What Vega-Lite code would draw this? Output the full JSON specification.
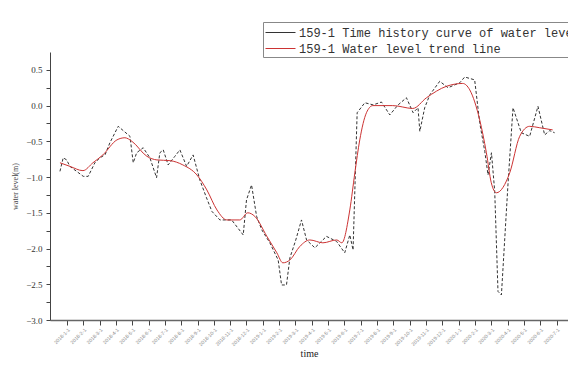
{
  "$schema": "https://vega.github.io/schema/vega-lite/v6.json",
  "width": 518,
  "height": 268,
  "autosize": "none",
  "padding": {"left": 50, "top": 52, "right": 0, "bottom": 45},
  "background": "white",
  "config": {
    "view": {"stroke": null},
    "font": "Liberation Serif"
  },
  "datasets": {
    "hist": [
      {"t": -0.43, "v": -0.92}, {"t": -0.23, "v": -0.73}, {"t": -0.02, "v": -0.76}, {"t": 0.18, "v": -0.85},
      {"t": 0.59, "v": -0.92}, {"t": 1.0, "v": -0.99}, {"t": 1.3, "v": -0.99}, {"t": 1.71, "v": -0.8},
      {"t": 2.02, "v": -0.73}, {"t": 2.33, "v": -0.69}, {"t": 2.63, "v": -0.52}, {"t": 3.14, "v": -0.29},
      {"t": 3.86, "v": -0.43}, {"t": 4.06, "v": -0.8}, {"t": 4.27, "v": -0.66}, {"t": 4.67, "v": -0.59},
      {"t": 5.08, "v": -0.73}, {"t": 5.49, "v": -1.01}, {"t": 5.69, "v": -0.66}, {"t": 5.9, "v": -0.62},
      {"t": 6.2, "v": -0.83}, {"t": 6.61, "v": -0.71}, {"t": 6.92, "v": -0.62}, {"t": 7.33, "v": -0.85},
      {"t": 7.73, "v": -0.69}, {"t": 8.14, "v": -1.04}, {"t": 8.55, "v": -1.29}, {"t": 8.88, "v": -1.48},
      {"t": 9.37, "v": -1.6}, {"t": 10.09, "v": -1.6}, {"t": 10.8, "v": -1.81}, {"t": 11.0, "v": -1.32},
      {"t": 11.31, "v": -1.11}, {"t": 11.62, "v": -1.55}, {"t": 11.94, "v": -1.74}, {"t": 12.43, "v": -1.92},
      {"t": 12.94, "v": -2.16}, {"t": 13.15, "v": -2.51}, {"t": 13.45, "v": -2.51}, {"t": 13.66, "v": -2.13},
      {"t": 14.02, "v": -1.88}, {"t": 14.37, "v": -1.6}, {"t": 14.68, "v": -1.88}, {"t": 15.19, "v": -1.99},
      {"t": 15.9, "v": -1.83}, {"t": 16.52, "v": -1.9}, {"t": 17.02, "v": -2.06}, {"t": 17.33, "v": -1.81},
      {"t": 17.53, "v": -2.02}, {"t": 17.78, "v": -0.1}, {"t": 18.25, "v": 0.04}, {"t": 18.76, "v": 0.01},
      {"t": 19.27, "v": 0.05}, {"t": 19.78, "v": -0.13}, {"t": 20.29, "v": 0.01}, {"t": 20.8, "v": 0.11},
      {"t": 21.21, "v": -0.1}, {"t": 21.51, "v": -0.03}, {"t": 21.62, "v": -0.36}, {"t": 21.92, "v": -0.03},
      {"t": 22.23, "v": 0.15}, {"t": 22.84, "v": 0.34}, {"t": 23.35, "v": 0.25}, {"t": 24.07, "v": 0.32},
      {"t": 24.37, "v": 0.4}, {"t": 24.68, "v": 0.38}, {"t": 24.98, "v": 0.36}, {"t": 25.29, "v": -0.24},
      {"t": 25.6, "v": -0.64}, {"t": 25.8, "v": -0.97}, {"t": 26.01, "v": -0.66}, {"t": 26.21, "v": -1.2},
      {"t": 26.41, "v": -2.6}, {"t": 26.62, "v": -2.65}, {"t": 27.02, "v": -1.11}, {"t": 27.33, "v": -0.03},
      {"t": 27.84, "v": -0.38}, {"t": 28.35, "v": -0.43}, {"t": 28.86, "v": -0.01}, {"t": 29.27, "v": -0.41},
      {"t": 29.58, "v": -0.35}, {"t": 29.88, "v": -0.38}
    ],
    "trend": [
      {"t": -0.43, "v": -0.8}, {"t": 0.18, "v": -0.85}, {"t": 0.98, "v": -0.91}, {"t": 1.59, "v": -0.8},
      {"t": 2.2, "v": -0.69}, {"t": 3.06, "v": -0.48}, {"t": 3.55, "v": -0.45}, {"t": 3.98, "v": -0.5},
      {"t": 4.9, "v": -0.71}, {"t": 5.51, "v": -0.76}, {"t": 6.31, "v": -0.77}, {"t": 7.1, "v": -0.83},
      {"t": 7.96, "v": -0.97}, {"t": 8.57, "v": -1.18}, {"t": 9.19, "v": -1.46}, {"t": 9.8, "v": -1.6},
      {"t": 10.59, "v": -1.6}, {"t": 11.08, "v": -1.5}, {"t": 11.51, "v": -1.55}, {"t": 12.25, "v": -1.83},
      {"t": 12.86, "v": -2.06}, {"t": 13.23, "v": -2.2}, {"t": 13.66, "v": -2.16}, {"t": 14.27, "v": -1.97},
      {"t": 14.88, "v": -1.88}, {"t": 15.68, "v": -1.92}, {"t": 16.53, "v": -1.88}, {"t": 16.84, "v": -1.92},
      {"t": 17.33, "v": -1.46}, {"t": 17.64, "v": -0.94}, {"t": 17.94, "v": -0.48}, {"t": 18.35, "v": -0.1},
      {"t": 18.74, "v": 0.0}, {"t": 19.96, "v": 0.0}, {"t": 21.19, "v": -0.04}, {"t": 22.03, "v": 0.11},
      {"t": 23.25, "v": 0.27}, {"t": 24.25, "v": 0.31}, {"t": 24.68, "v": 0.22}, {"t": 25.29, "v": -0.2},
      {"t": 25.7, "v": -0.66}, {"t": 26.0, "v": -1.08}, {"t": 26.31, "v": -1.22}, {"t": 27.13, "v": -0.94},
      {"t": 27.74, "v": -0.43}, {"t": 28.35, "v": -0.29}, {"t": 28.97, "v": -0.31}, {"t": 29.76, "v": -0.34}
    ]
  },
  "encoding": {
    "x": {
      "field": "t", "type": "quantitative",
      "scale": {"domain": [-1.04, 30.7], "nice": false, "zero": false},
      "axis": {
        "title": "time", "titleFont": "Liberation Serif", "titleFontSize": 10, "titleFontWeight": "normal",
        "titleColor": "#222", "titlePadding": 2,
        "values": [0,1,2,3,4,5,6,7,8,9,10,11,12,13,14,15,16,17,18,19,20,21,22,23,24,25,26,27,28,29,30],
        "labelExpr": "['2018-1-1','2018-2-1','2018-3-1','2018-4-1','2018-5-1','2018-6-1','2018-7-1','2018-8-1','2018-9-1','2018-10-1','2018-11-1','2018-12-1','2019-1-1','2019-2-1','2019-3-1','2019-4-1','2019-5-1','2019-6-1','2019-7-1','2019-8-1','2019-9-1','2019-10-1','2019-11-1','2019-12-1','2020-1-1','2020-2-1','2020-3-1','2020-4-1','2020-5-1','2020-6-1','2020-7-1'][datum.value]",
        "labelAngle": -45, "labelFont": "Liberation Sans", "labelFontSize": 5, "labelColor": "#888", "labelOverlap": false,
        "labelAlign": "right", "labelBaseline": "top", "labelPadding": 2,
        "tickSize": 5, "tickColor": "#444", "domainColor": "#666", "domainWidth": 1.5, "grid": false
      }
    },
    "y": {
      "field": "v", "type": "quantitative",
      "scale": {"domain": [-3.0, 0.75], "nice": false, "zero": false},
      "axis": {
        "title": "water level(m)", "titleFont": "Liberation Serif", "titleFontSize": 8, "titleFontWeight": "normal",
        "titleColor": "#444", "titlePadding": 6,
        "values": [-3.0, -2.75, -2.5, -2.25, -2.0, -1.75, -1.5, -1.25, -1.0, -0.75, -0.5, -0.25, 0.0, 0.25, 0.5],
        "labelExpr": "abs(datum.value * 2 - round(datum.value * 2)) > 0.01 ? '' : format(datum.value, '.1f')",
        "labelFont": "Liberation Serif", "labelFontSize": 9, "labelColor": "#333", "labelPadding": 4, "labelOverlap": false,
        "tickSize": 4, "tickColor": "#444", "domainColor": "#444", "grid": false
      }
    },
    "color": {
      "field": "series", "type": "nominal",
      "scale": {
        "domain": ["159-1 Time history curve of water level", "159-1 Water level trend line"],
        "range": ["#333333", "#cc3333"]
      },
      "legend": {
        "title": null, "orient": "none", "legendX": 213, "legendY": -30,
        "direction": "vertical",
        "strokeColor": "#888", "padding": 2, "fillColor": "white",
        "symbolType": "M-1,0H2.75", "symbolSize": 256, "symbolStrokeWidth": 1, "symbolOffset": 0,
        "labelFont": "Liberation Mono", "labelFontSize": 12, "labelColor": "#333", "labelOffset": 17,
        "rowPadding": 1, "labelLimit": 400
      }
    }
  },
  "layer": [
    {
      "data": {"name": "hist"},
      "transform": [{"calculate": "'159-1 Time history curve of water level'", "as": "series"}],
      "mark": {"type": "line", "strokeWidth": 1, "strokeDash": [3, 2], "clip": true}
    },
    {
      "data": {"name": "trend"},
      "transform": [{"calculate": "'159-1 Water level trend line'", "as": "series"}],
      "mark": {"type": "line", "strokeWidth": 1, "interpolate": "monotone", "clip": true}
    }
  ]
}
